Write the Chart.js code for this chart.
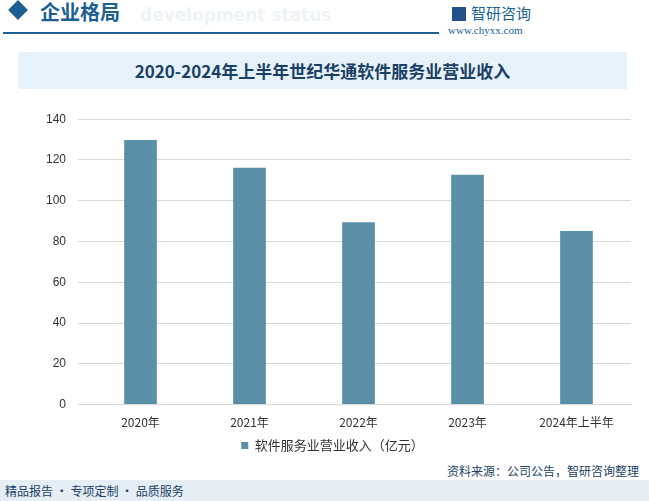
<!DOCTYPE html>
<html><head><meta charset="utf-8">
<script src="https://cdn.jsdelivr.net/npm/chart.js@4/dist/chart.umd.min.js"></script>
<style>
body{margin:0;width:649px;height:501px;position:relative;background:#fff;font-family:"Noto Sans CJK SC",sans-serif;overflow:hidden}
.dia{position:absolute;left:11px;top:3px;width:14px;height:14px;background:#1b5f95;transform:rotate(45deg)}
.h1{position:absolute;left:40px;top:-3px;font-size:20px;font-weight:bold;color:#1b5f95}
.ghost{position:absolute;left:140px;top:5px;font-size:17px;font-weight:bold;color:#eef3f8;font-family:"DejaVu Sans"}
.hline{position:absolute;left:3px;top:32px;width:436px;height:2px;background:#1b5f95}
.logo{position:absolute;left:452px;top:2px;font-size:15px;color:#1b5f95}
.logo b{display:inline-block;width:14px;height:14px;background:#24508d;margin-right:5px;vertical-align:-2px}
.url{position:absolute;left:448px;top:24px;font-size:11px;color:#1b5f95;font-family:"Liberation Serif"}
.tbox{position:absolute;left:18px;top:52px;width:609px;height:37px;background:#e6f2fb;text-align:center;line-height:37px;font-size:17px;font-weight:bold;color:#1b3f66}
#wrap{position:absolute;left:0;top:100px;width:649px;height:362px}
.src{position:absolute;right:10px;top:462px;font-size:12px;color:#1b3f66}
.foot{position:absolute;left:0;top:480px;width:649px;height:21px;background:#e6eef5;font-size:12px;color:#1b3f66;line-height:22px;padding-left:5px}
</style></head><body>
<div class="dia"></div><div class="h1">企业格局</div><div class="ghost">development status</div>
<div class="hline"></div>
<div class="logo"><b></b>智研咨询</div><div class="url">www.chyxx.com</div>
<div class="tbox">2020-2024年上半年世纪华通软件服务业营业收入</div>
<div id="wrap"><canvas id="c"></canvas></div>
<div class="src">资料来源：公司公告，智研咨询整理</div>
<div class="foot">精品报告 · 专项定制 · 品质服务</div>
<script>
const categories = ['2020年', '2021年', '2022年', '2023年', '2024年上半年'];
const revenue = [129.8, 116.2, 89.4, 112.8, 85.1];
const seriesName = '软件服务业营业收入（亿元）';

new Chart(document.getElementById('c'), {
    type: 'bar',
    data: {
        labels: categories,
        datasets: [{
            label: seriesName,
            data: revenue,
            backgroundColor: '#5b8fa8',
            categoryPercentage: 1,
            barPercentage: 0.3
        }]
    },
    options: {
        responsive: true,
        maintainAspectRatio: false,
        animation: false,
        layout: {padding: {left: 34, right: 18, top: 10, bottom: 0}},
        plugins: {
            legend: {
                position: 'bottom',
                labels: {boxWidth: 7, boxHeight: 7, color: '#333', font: {size: 13, family: 'Noto Sans CJK SC'}, padding: 6}
            },
            tooltip: {enabled: false}
        },
        scales: {
            y: {
                min: 0, max: 140,
                ticks: {stepSize: 20, color: '#333', font: {size: 12}, padding: 12},
                grid: {color: '#d9d9d9'},
                border: {display: false}
            },
            x: {
                ticks: {color: '#333', font: {size: 12, family: 'Noto Sans CJK SC'}},
                grid: {display: false},
                border: {color: '#d9d9d9'}
            }
        }
    }
});
</script>
</body></html>
